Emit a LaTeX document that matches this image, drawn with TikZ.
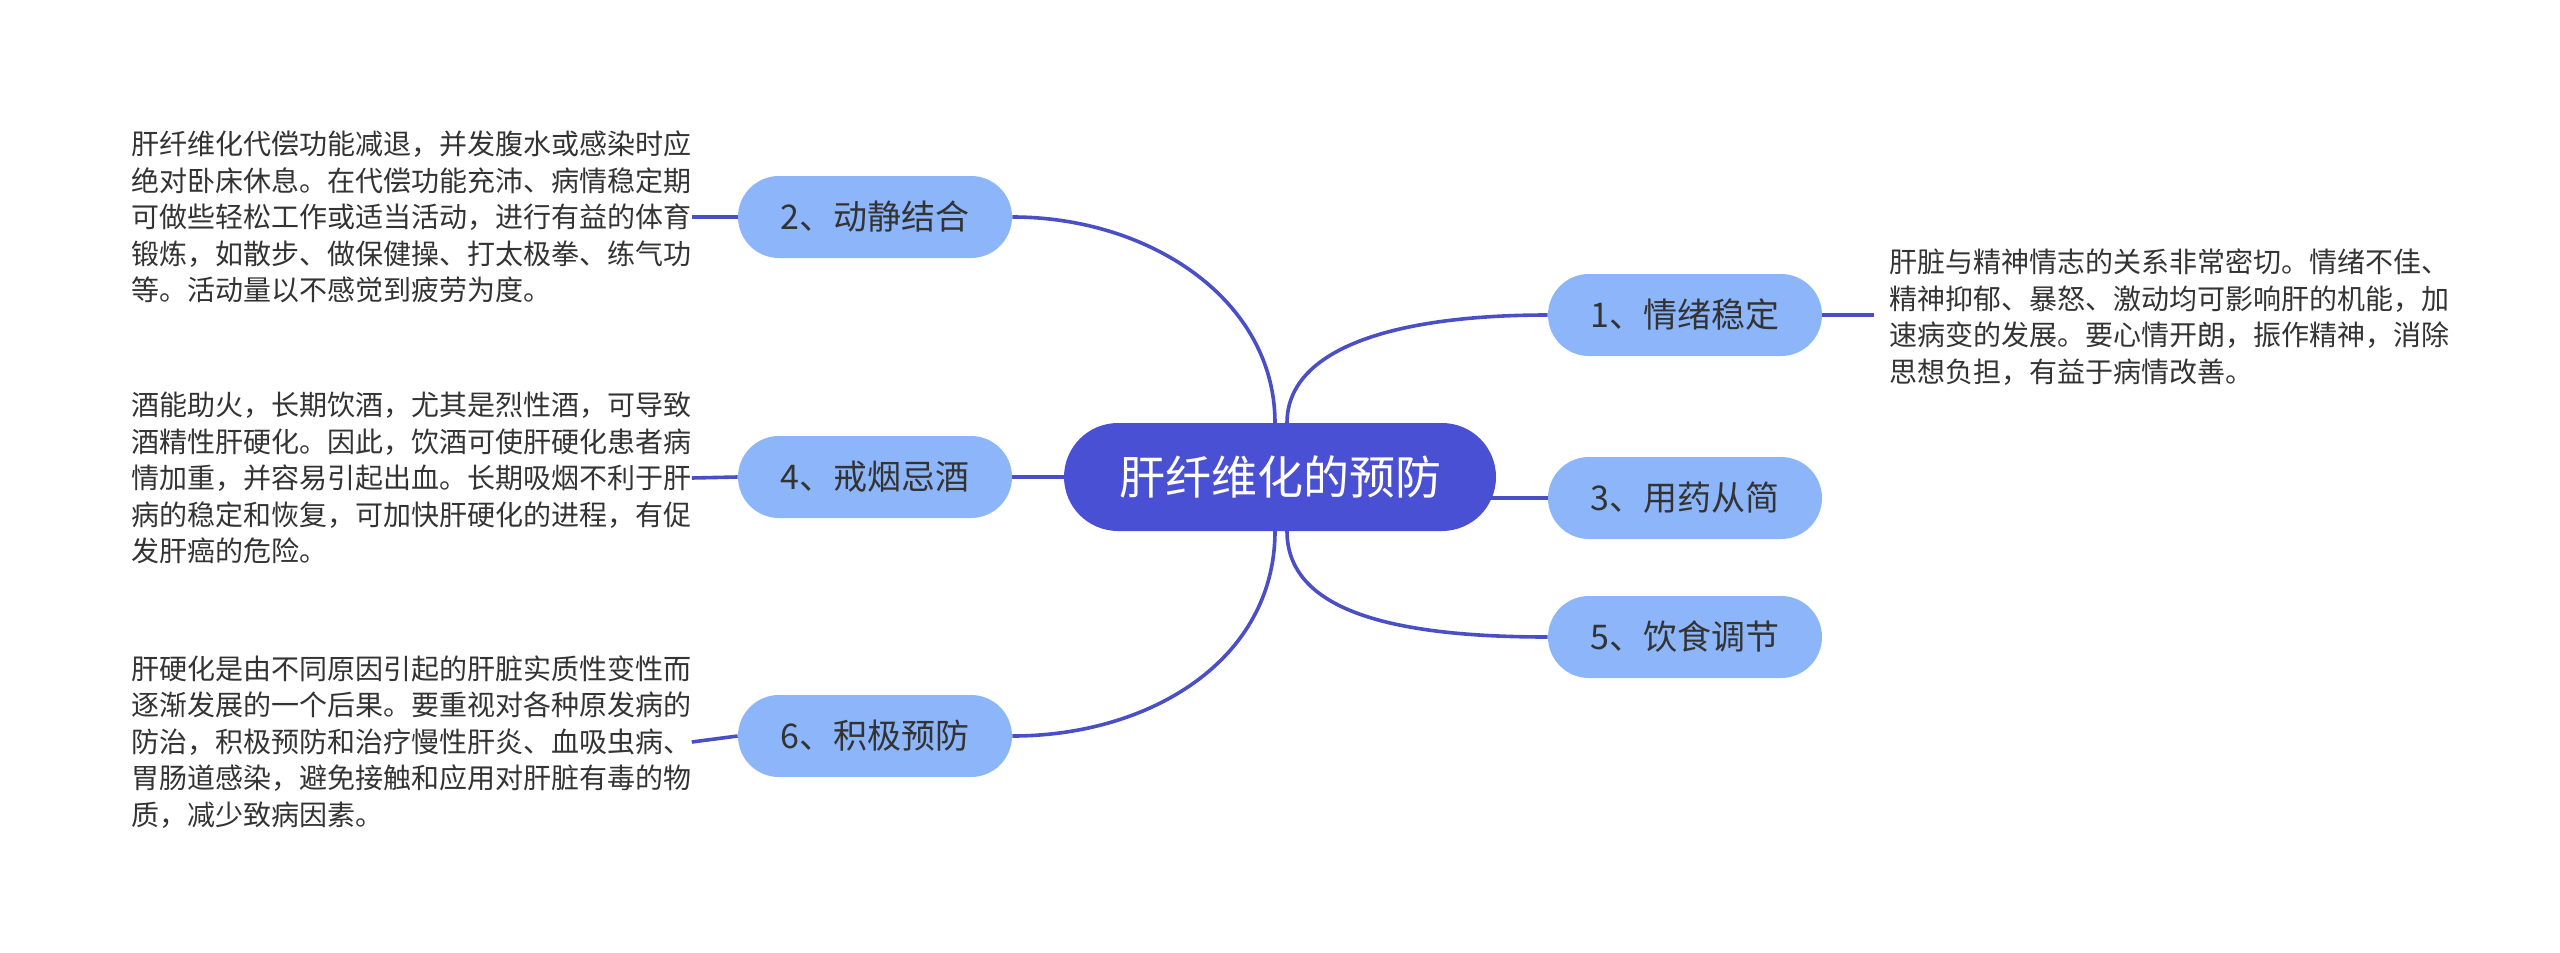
\documentclass[tikz,border=0pt]{standalone}
\usepackage{fontspec}
\newfontfamily\cjk{Noto Sans CJK SC}
\definecolor{cmain}{HTML}{4A50D4}
\definecolor{cline}{HTML}{4A4FC6}
\definecolor{cbranch}{HTML}{8DB5F9}
\definecolor{ctext}{HTML}{333333}
\tikzset{
  central/.style={draw=none, fill=cmain, rounded corners=27pt, minimum width=216pt, minimum height=54pt, inner sep=0pt, text=white, font=\cjk\fontsize{23pt}{28pt}\selectfont},
  branch/.style={draw=none, fill=cbranch, rounded corners=20.5pt, minimum width=137pt, minimum height=41pt, inner sep=0pt, text=ctext, font=\cjk\fontsize{17pt}{20pt}\selectfont},
  desc/.style={inner sep=0pt, align=left, text=ctext, font=\cjk\fontsize{14pt}{18.25pt}\selectfont},
  conn/.style={draw=cline, line width=1.8pt}
}
\begin{document}
\begin{tikzpicture}[x=0.5pt,y=-0.5pt]
\useasboundingbox (0,0) rectangle (2560,953);
\node[central] (c) at (1280,477) {肝纤维化的预防};
\node[branch] (n1) at (1685,315) {1、情绪稳定};
\node[branch] (n3) at (1685,498) {3、用药从简};
\node[branch] (n5) at (1685,637) {5、饮食调节};
\node[branch] (n2) at (875,217) {2、动静结合};
\node[branch] (n4) at (875,477) {4、戒烟忌酒};
\node[branch] (n6) at (875,736) {6、积极预防};

\node[desc, anchor=west] (t2) at (131,217) {肝纤维化代偿功能减退，并发腹水或感染时应\\绝对卧床休息。在代偿功能充沛、病情稳定期\\可做些轻松工作或适当活动，进行有益的体育\\锻炼，如散步、做保健操、打太极拳、练气功\\等。活动量以不感觉到疲劳为度。};
\node[desc, anchor=west] (t4) at (131,478) {酒能助火，长期饮酒，尤其是烈性酒，可导致\\酒精性肝硬化。因此，饮酒可使肝硬化患者病\\情加重，并容易引起出血。长期吸烟不利于肝\\病的稳定和恢复，可加快肝硬化的进程，有促\\发肝癌的危险。};
\node[desc, anchor=west] (t6) at (131,742) {肝硬化是由不同原因引起的肝脏实质性变性而\\逐渐发展的一个后果。要重视对各种原发病的\\防治，积极预防和治疗慢性肝炎、血吸虫病、\\胃肠道感染，避免接触和应用对肝脏有毒的物\\质，减少致病因素。};
\node[desc, anchor=west, inner xsep=7.5pt] (t1) at (1874,317) {肝脏与精神情志的关系非常密切。情绪不佳、\\精神抑郁、暴怒、激动均可影响肝的机能，加\\速病变的发展。要心情开朗，振作精神，消除\\思想负担，有益于病情改善。};

\coordinate (ct1) at (1287,423);
\coordinate (ct2) at (1275,423);
\coordinate (cb1) at (1287,531);
\coordinate (cb2) at (1275,531);
\coordinate (cr3) at (1490,498);

\draw[conn] (ct1) .. controls (1287,350) and (1390,315) .. (n1.west);
\draw[conn] (ct2) .. controls (1275,300) and (1150,217) .. (n2.east);
\draw[conn] (cb1) .. controls (1287,610) and (1390,637) .. (n5.west);
\draw[conn] (cb2) .. controls (1275,660) and (1150,736) .. (n6.east);
\draw[conn] (cr3) -- (n3.west);
\draw[conn] (c.west) -- (n4.east);
\draw[conn] (t2.east) -- (n2.west);
\draw[conn] (t4.east) -- (n4.west);
\draw[conn] (t6.east) -- (n6.west);
\draw[conn] (n1.east) -- (t1.west |- n1.east);
\end{tikzpicture}
\end{document}
